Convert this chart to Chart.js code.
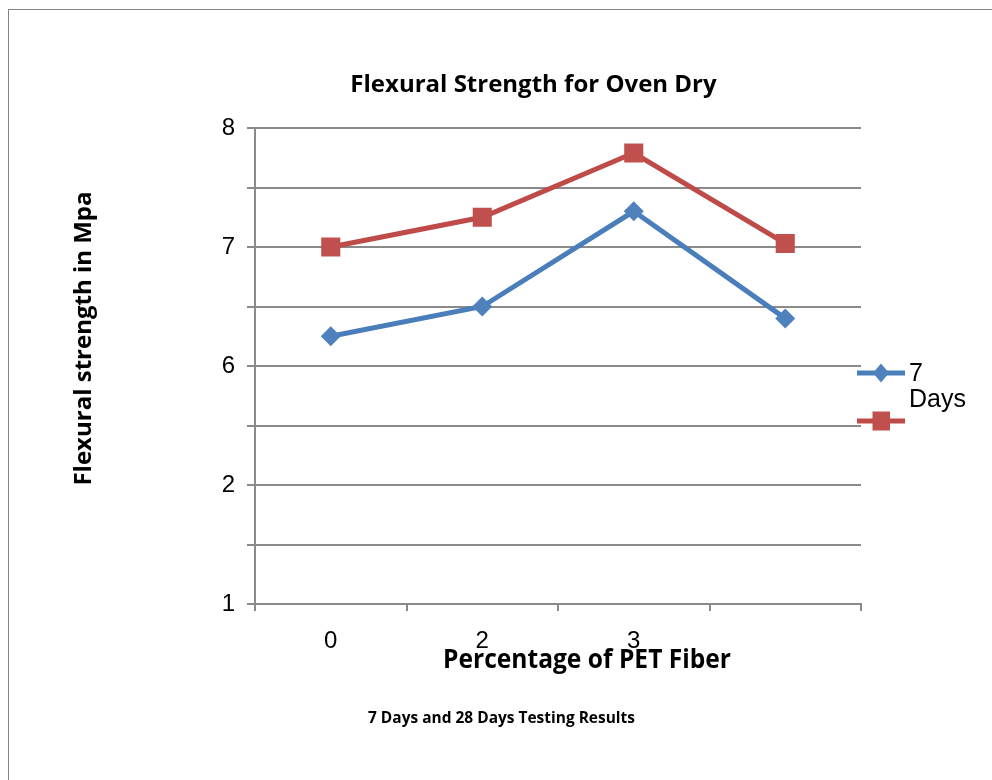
<!DOCTYPE html>
<html><head><meta charset="utf-8">
<script src="https://cdn.jsdelivr.net/npm/chart.js@4.4.1/dist/chart.umd.min.js"></script>
<style>
html,body{margin:0;padding:0;background:#fff;}
#wrap{position:relative;width:992px;height:780px;overflow:hidden;}
#frame{position:absolute;left:8px;top:9px;width:1200px;height:1200px;border:1px solid #858585;box-sizing:border-box;}
canvas{position:absolute;left:0;top:0;}
</style></head><body>
<div id="wrap"><div id="frame"></div><canvas id="c" width="992" height="780"></canvas></div>
<script>
const categories = ["0", "2", "3", ""];
const days7 = [6.25, 6.5, 7.3, 6.4];
const days28 = [7.0, 7.25, 7.79, 7.03];
const yTickValues = [4, 5, 6, 7, 8];
const yTickLabels = ["1", "2", "6", "7", "8"];
const seriesLabels = ["7 Days", "28 Days"];
const legendTexts = [["7", "Days"], []];
const chartTitle = "Flexural Strength for Oven Dry";
const xTitle = "Percentage of PET Fiber";
const yTitle = "Flexural strength in Mpa";
const caption = "7 Days and 28 Days Testing Results";

const BLUE_LINE = '#4A7EBB', BLUE_MARK = '#4F81BD';
const RED_LINE = '#BE4B48', RED_MARK = '#C0504D';
const GRID = '#8a8a8a';
const ARIAL = '"Liberation Sans", Arial, sans-serif';
const BOLD = '"Open Sans", sans-serif';

const textPlugin = {
  id: 'texts',
  afterDraw(chart) {
    const ctx = chart.ctx;
    ctx.save();
    ctx.fillStyle = '#000';
    ctx.textBaseline = 'alphabetic';
    ctx.textAlign = 'center';
    // main title
    ctx.font = 'bold 24px ' + BOLD;
    ctx.fillText(chartTitle, 533.5, 92, 369);
    // x title
    ctx.font = 'bold 27px ' + BOLD;
    ctx.fillText(xTitle, 587, 668, 288);
    // caption
    ctx.font = 'bold 15.5px ' + BOLD;
    ctx.fillText(caption, 501.5, 723, 267);
    // y title
    ctx.save();
    ctx.translate(91, 338.5);
    ctx.rotate(-Math.PI / 2);
    ctx.font = 'bold 24px ' + BOLD;
    ctx.fillText(yTitle, 0, 0, 297);
    ctx.restore();
    // legend
    const items = [
      {y: 373, line: BLUE_LINE, mark: BLUE_MARK, style: 'diamond', text: legendTexts[0]},
      {y: 421, line: RED_LINE, mark: RED_MARK, style: 'square', text: legendTexts[1]}
    ];
    items.forEach(it => {
      ctx.strokeStyle = it.line;
      ctx.lineWidth = 5;
      ctx.beginPath();
      ctx.moveTo(857, it.y); ctx.lineTo(905, it.y);
      ctx.stroke();
      ctx.fillStyle = it.mark;
      ctx.beginPath();
      if (it.style === 'diamond') {
        ctx.moveTo(881, it.y - 9.5); ctx.lineTo(889, it.y); ctx.lineTo(881, it.y + 9.5); ctx.lineTo(873, it.y);
        ctx.closePath(); ctx.fill();
      } else {
        ctx.fillRect(872.5, it.y - 9.5, 17.5, 19);
      }
      ctx.fillStyle = '#000';
      ctx.textAlign = 'left';
      ctx.font = '25px ' + ARIAL;
      it.text.forEach((t, i) => ctx.fillText(t, 909, it.y + 8 + i * 25.5));
    });
    ctx.restore();
  }
};

new Chart(document.getElementById('c'), {
  type: 'line',
  data: {
    labels: categories,
    datasets: [
      {label: seriesLabels[0], data: days7, borderColor: BLUE_LINE, backgroundColor: BLUE_MARK,
       borderWidth: 5, pointStyle: 'rectRot', pointRadius: 10, pointBorderWidth: 0,
       pointBackgroundColor: BLUE_MARK, tension: 0, fill: false},
      {label: seriesLabels[1], data: days28, borderColor: RED_LINE, backgroundColor: RED_MARK,
       borderWidth: 5, pointStyle: 'rect', pointRadius: 13.5, pointBorderWidth: 0,
       pointBackgroundColor: RED_MARK, tension: 0, fill: false}
    ]
  },
  options: {
    responsive: false, animation: false, devicePixelRatio: 1,
    layout: {autoPadding: false, padding: {left: 0, top: 128, right: 131, bottom: 116}},
    plugins: {legend: {display: false}, tooltip: {enabled: false}, title: {display: false}},
    scales: {
      x: {
        type: 'category', offset: true,
        grid: {display: true, drawOnChartArea: false, drawTicks: true, tickLength: 7, color: GRID, lineWidth: 2, offset: true},
        border: {display: true, color: GRID, width: 2},
        ticks: {font: {family: ARIAL, size: 24}, color: '#000', padding: 16, maxRotation: 0, autoSkip: false},
        afterFit(s) { s.height = 60; }
      },
      y: {
        min: 4, max: 8,
        ticks: {stepSize: 0.5, autoSkip: false, color: '#000', padding: 12, font: {family: ARIAL, size: 24},
          callback(v) { const i = yTickValues.indexOf(v); return i >= 0 ? yTickLabels[i] : ''; }},
        grid: {color: GRID, lineWidth: 2, tickLength: 8, drawTicks: true},
        border: {display: true, color: GRID, width: 2},
        afterFit(s) { s.width = 255; }
      }
    }
  },
  plugins: [textPlugin]
});
</script>
</body></html>
